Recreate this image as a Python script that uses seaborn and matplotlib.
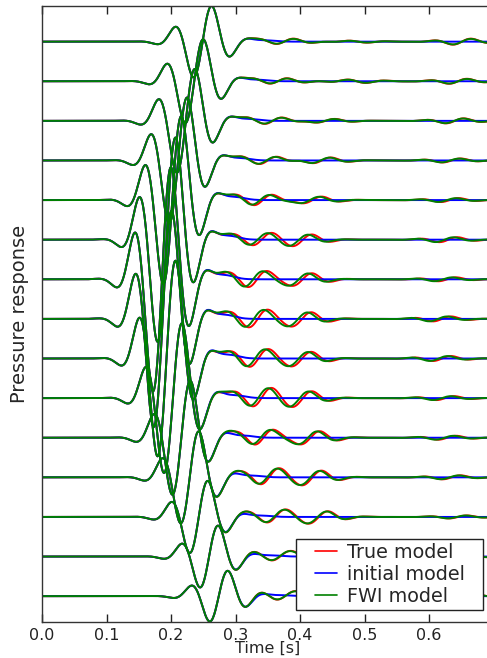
import numpy as np
import pandas as pd
import matplotlib
matplotlib.use("Agg")
import matplotlib.pyplot as plt
import seaborn as sns
from matplotlib.lines import Line2D
from matplotlib.patches import Rectangle

# ---------------- data ----------------
models = ["True model", "initial model", "FWI model"]
model_colors = ["#ff0000", "#0000ff", "#008000"]
trace_ids = list(range(15))              # 0 = top trace

# direct arrival: centre time [s] and peak amplitude (trace spacing = 1)
direct_time = [0.249, 0.236, 0.223, 0.211, 0.202, 0.193, 0.186, 0.187,
               0.193, 0.203, 0.216, 0.229, 0.243, 0.259, 0.274]
direct_amp = [0.90, 1.06, 1.31, 1.59, 2.12, 2.58, 2.83, 2.73,
              2.47, 1.89, 1.44, 1.16, 0.91, 0.78, 0.64]
# slow positive tail following the direct wave (relative size, delay [s])
tail_ratio = 0.045
tail_delay = 0.095

# reflected events (true model)
refl1_time = [0.376, 0.366, 0.358, 0.350, 0.342, 0.340, 0.333, 0.334,
              0.335, 0.340, 0.343, 0.352, 0.362, 0.370, 0.378]
refl1_amp = [0.076, 0.076, 0.088, 0.10, 0.139, 0.139, 0.20, 0.215,
             0.215, 0.215, 0.20, 0.20, 0.164, 0.126, 0.114]
refl2_time = [0.490, 0.488, 0.440, 0.434, 0.420, 0.405, 0.405, 0.404,
              0.404, 0.405, 0.417, 0.420, 0.430, 0.440, 0.450]
refl2_amp = [-0.025, -0.043, 0.05, 0.076, 0.088, 0.126, 0.15, 0.164,
             0.164, 0.164, 0.164, 0.164, 0.139, 0.114, 0.10]
late_time = [0.651, 0.645, 0.640, 0.635, 0.632, 0.630, 0.628, 0.620,
             0.620, 0.625, 0.628, 0.635, 0.645, 0.650, 0.660]
late_amp = [0.076, 0.063, 0.063, 0.05, 0.05, 0.063, 0.05, 0.063,
            0.063, 0.05, 0.05, 0.05, 0.038, 0.038, 0.038]

# FWI model: time shift and amplitude factor of the reflections
fwi_shift = [0.0, 0.0, -0.001, -0.002, -0.004, -0.006, -0.006, -0.006,
             -0.005, -0.005, -0.004, -0.003, -0.002, -0.001, 0.0]
fwi_scale = [0.92, 0.92, 0.94, 0.95, 0.95, 0.96, 0.97, 0.97,
             0.97, 0.97, 0.97, 0.96, 0.96, 0.95, 0.95]

xtick_vals = [0.0, 0.1, 0.2, 0.3, 0.4, 0.5, 0.6]
xtick_labels = ["0.0", "0.1", "0.2", "0.3", "0.4", "0.5", "0.6"]

# ---------------- build traces ----------------
F0, SIG = 16.5, 0.031
time = np.round(np.arange(0.0, 0.7001, 0.001), 4)
_s = np.linspace(-0.2, 0.2, 4001)
_wmax = np.max(np.sin(2 * np.pi * F0 * _s) * np.exp(-_s**2 / (2 * SIG**2)))


def wavelet(s):
    return np.sin(2 * np.pi * F0 * s) * np.exp(-s**2 / (2 * SIG**2)) / _wmax


rows = []
for k in trace_ids:
    base = -float(k)
    direct = direct_amp[k] * wavelet(time - direct_time[k])
    direct = direct + tail_ratio * direct_amp[k] * np.exp(
        -(time - direct_time[k] - tail_delay) ** 2 / (2 * 0.015 ** 2))
    refl_true = (refl1_amp[k] * wavelet(time - refl1_time[k])
                 + refl2_amp[k] * wavelet(time - refl2_time[k])
                 + late_amp[k] * wavelet(time - late_time[k]))
    sh, sc = fwi_shift[k], fwi_scale[k]
    refl_fwi = sc * (refl1_amp[k] * wavelet(time - refl1_time[k] - sh)
                     + refl2_amp[k] * wavelet(time - refl2_time[k] - sh)
                     + late_amp[k] * wavelet(time - late_time[k] - sh))
    series = {
        "True model": base + direct + refl_true,
        "initial model": base + direct,
        "FWI model": base + direct + refl_fwi,
    }
    for m in models:
        rows.append(pd.DataFrame({"time": time, "pressure": series[m],
                                  "trace": k, "model": m}))
df = pd.concat(rows, ignore_index=True)

# ---------------- plot ----------------
sns.set_style("white")
plt.rcParams["font.family"] = ["DejaVu Sans"]

W, H = 487, 658
fig = plt.figure(figsize=(W / 100, H / 100), dpi=100)
ax = fig.add_axes([42 / W, 1 - 621.5 / H, (493.5 - 42) / W, (621.5 - 6) / H])

sns.lineplot(data=df, x="time", y="pressure", hue="model", units="trace",
             estimator=None, hue_order=models,
             palette=dict(zip(models, model_colors)), linewidth=1.4,
             sort=False, legend=False, ax=ax)

ax.set_xlim(0.0, 0.7)
ax.set_ylim(df["pressure"].min(), df["pressure"].max())
ax.set_xticks(xtick_vals)
ax.set_xticklabels(xtick_labels)
ax.set_yticks([])
ax.tick_params(axis="x", direction="in", top=True, bottom=True,
               length=5.5, width=1, labelsize=11.5, pad=5, colors="#222222")
for sp in ax.spines.values():
    sp.set_color("#333333")
    sp.set_linewidth(1.0)
ax.set_xlabel("Time [s]", fontsize=11.5, labelpad=-2)
ax.set_ylabel("Pressure response", fontsize=14, labelpad=9)

# legend frame and legend
ax.add_patch(Rectangle((295.7 / W, 1 - 610 / H), (483.3 - 295.7) / W, 71 / H,
                       transform=fig.transFigure, facecolor="white",
                       edgecolor="#222222", linewidth=1.0, zorder=4,
                       clip_on=False))
handles = [Line2D([], [], color=c, lw=1.2) for c in model_colors]
leg = ax.legend(handles, models, loc="upper left", frameon=False,
                bbox_to_anchor=(315 / W, 1 - 543.0 / H),
                bbox_transform=fig.transFigure, borderpad=0,
                borderaxespad=0, handlelength=1.15, handletextpad=0.52,
                labelspacing=0.15, fontsize=13.8)
leg.set_zorder(5)

fig.savefig("out.png", dpi=100)
